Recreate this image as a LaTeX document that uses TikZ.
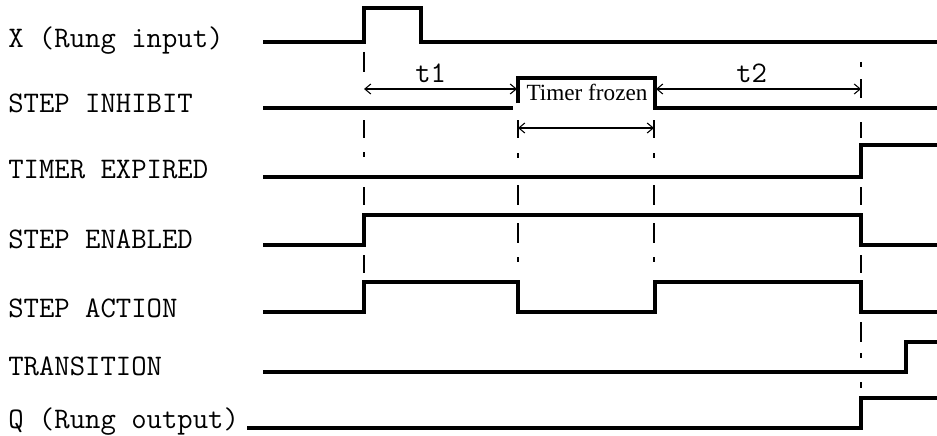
\documentclass[tikz,border=0pt]{standalone}
\usepackage{fontspec}
\setmainfont{Liberation Serif}
\usetikzlibrary{arrows.meta}
\begin{document}
\begin{tikzpicture}[x=0.75pt,y=-0.75pt,
  signal/.style={line width=2.3pt, line join=miter, line cap=butt},
  guide/.style={line width=1.3pt},
  span/.style={line width=0.8pt,
    {Straight Barb[length=4.5pt,width=7.5pt]}-{Straight Barb[length=4.5pt,width=7.5pt]}},
  siglabel/.style={anchor=base west, inner sep=0pt,
    font=\ttfamily\fontsize{22.4}{24}\selectfont},
  note/.style={anchor=base, inner sep=0pt, font=\fontsize{17.4}{20}\selectfont}]
\useasboundingbox (0,0) rectangle (937,435);

% signal names
\node[siglabel] (lx)   at (8,48)  {X (Rung input)};
\node[siglabel] (linh) at (8,112) {STEP INHIBIT};
\node[siglabel] (ltim) at (8,178) {TIMER EXPIRED};
\node[siglabel] (lena) at (8,248) {STEP ENABLED};
\node[siglabel] (lact) at (8,317) {STEP ACTION};
\node[siglabel] (ltr)  at (8,375) {TRANSITION};
\node[siglabel] (lq)   at (8,428) {Q (Rung output)};

% waveforms
\draw[signal] (263,42) -- (364,42) -- (364,8) -- (421,8) -- (421,42) -- (937,42);
\draw[signal] (263,108) -- (513,108);
\draw[signal] (518,103) -- (518,78) -- (655,78) -- (655,108) -- (937,108);
\draw[signal] (263,177) -- (861,177) -- (861,145) -- (937,145);
\draw[signal] (263,245) -- (364,245) -- (364,215) -- (861,215) -- (861,245) -- (937,245);
\draw[signal] (263,312) -- (364,312) -- (364,282) -- (518,282) -- (518,312)
  -- (655,312) -- (655,282) -- (861,282) -- (861,312) -- (937,312);
\draw[signal] (263,372) -- (906,372) -- (906,342) -- (937,342);
\draw[signal] (247,428) -- (861,428) -- (861,398) -- (937,398);

% dash-dot timing guides
\foreach \a/\b in {52/72,120/138,152/157,187/205,255/273}
  \draw[guide] (364,\a) -- (364,\b);
\foreach \gx in {518,654}
  \foreach \a/\b in {120/138,153/158,185/205,223/243,257/262}
    \draw[guide] (\gx,\a) -- (\gx,\b);
\foreach \a/\b in {62/67,79/98,122/138,187/205,255/273,322/342,353/358,382/388}
  \draw[guide] (861,\a) -- (861,\b);

% interval markers
\coordinate (t1a) at (364,89);
\coordinate (t1b) at (517,89);
\coordinate (t2a) at (656,89);
\coordinate (t2b) at (861,89);
\coordinate (fza) at (518,128);
\coordinate (fzb) at (654,128);
\draw[span] (t1a) -- (t1b);
\draw[span] (t2a) -- (t2b);
\draw[span] (fza) -- (fzb);

\node[siglabel] (t1) at (415,82) {t1};
\node[siglabel] (t2) at (736,82) {t2};
\node[note] (frozen) at (587,100) {Timer frozen};
\end{tikzpicture}
\end{document}
